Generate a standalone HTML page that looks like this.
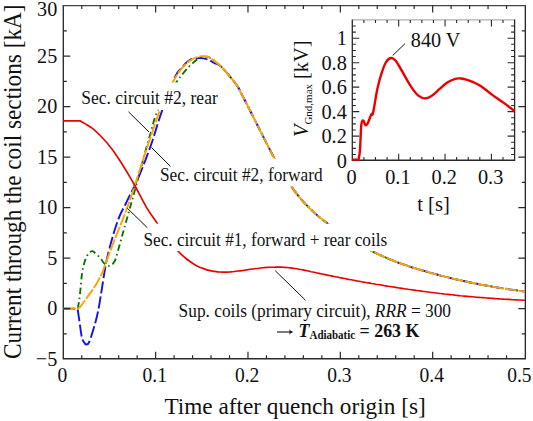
<!DOCTYPE html>
<html><head><meta charset="utf-8"><style>
html,body{margin:0;padding:0;background:#fff;}
svg{display:block;font-family:"Liberation Serif", serif;}
</style></head><body>
<svg width="533" height="421" viewBox="0 0 533 421" fill="#111">
<path d="M63.3,358.8 V5.6 M525.35,5.6 V358.8 M62.6,358.75 H526" stroke="#2a2a2a" stroke-width="1.35" fill="none"/>
<path d="M62.6,5.6 H526" stroke="#444" stroke-width="1.1" fill="none"/>
<path d="M63.3,308.6 L77.8,308.6 C78.2,306.3 79.2,301.0 79.9,295.0 C80.6,289.0 81.3,278.2 82.1,272.8 C82.9,267.4 83.6,265.3 84.5,262.3 C85.4,259.3 86.4,256.8 87.5,255.0 C88.6,253.2 90.1,252.2 91.0,251.6 C91.9,251.0 92.2,250.9 93.1,251.4 C94.0,251.9 95.1,253.1 96.4,254.3 C97.7,255.5 99.5,257.1 100.7,258.5 C101.9,259.9 102.4,261.4 103.5,262.6 C104.6,263.8 106.3,265.0 107.5,265.5 C108.7,266.0 109.5,266.0 110.5,265.6 C111.5,265.2 112.6,264.2 113.5,263.0 C114.4,261.8 114.7,261.9 115.8,258.5 C116.9,255.1 118.8,247.6 120.2,242.8 C121.6,238.0 122.7,233.9 123.9,229.5 C125.1,225.1 126.4,220.6 127.6,216.2 C128.8,211.8 130.2,207.1 131.3,203.0 C132.5,198.9 133.3,195.8 134.5,191.5 C135.7,187.2 136.9,182.8 138.5,177.0 C140.1,171.2 141.8,164.2 143.8,157.0 C145.8,149.8 148.1,141.4 150.5,133.5 C152.9,125.6 153.8,118.2 158.1,109.6 C162.4,101.0 172.3,88.0 176.5,82.0 C180.7,76.0 181.0,76.0 183.0,73.5 C185.0,71.0 186.7,68.9 188.5,67.1 C190.3,65.2 192.0,63.8 193.6,62.4 C195.2,61.0 196.2,59.9 197.9,59.0 C199.6,58.1 201.9,57.0 203.9,56.8 C205.9,56.6 207.0,56.0 210.0,57.8 C213.0,59.6 217.5,62.9 222.0,67.5 C226.5,72.1 233.7,81.0 236.8,85.2 C239.9,89.4 239.5,90.1 240.8,92.6 C242.1,95.1 243.5,97.7 244.8,100.2 C246.1,102.8 247.5,105.4 248.8,108.0 C250.1,110.7 251.5,113.3 252.8,116.0 C254.1,118.6 255.5,121.3 256.8,123.9 C258.1,126.6 259.5,129.3 260.8,131.9 C262.2,134.6 263.5,137.2 264.8,139.9 C266.2,142.5 267.5,145.1 268.8,147.7 C270.2,150.2 271.5,152.8 272.8,155.3 C274.2,157.8 275.5,160.3 276.8,162.7 C278.2,165.1 279.5,167.4 280.8,169.7 C282.2,172.0 283.5,174.3 284.8,176.5 C286.2,178.6 287.5,180.7 288.8,182.8 C290.2,184.8 291.5,186.7 292.8,188.6 C294.2,190.4 295.5,192.2 296.8,193.9 C298.2,195.6 299.5,197.2 300.8,198.8 C302.2,200.3 303.5,201.8 304.8,203.3 C306.2,204.7 307.5,206.1 308.9,207.5 C310.2,208.8 311.5,210.1 312.9,211.3 C314.2,212.6 315.5,213.8 316.9,214.9 C318.2,216.1 319.5,217.2 320.9,218.3 C322.2,219.4 323.5,220.4 324.9,221.5 C326.2,222.5 327.5,223.5 328.9,224.5 C330.2,225.4 331.5,226.4 332.9,227.3 C334.2,228.3 335.5,229.2 336.9,230.1 C338.2,231.0 339.5,231.9 340.9,232.7 C342.2,233.6 343.5,234.5 344.9,235.3 C346.2,236.2 347.5,237.0 348.9,237.8 C350.2,238.6 351.5,239.5 352.9,240.3 C354.2,241.1 355.5,241.9 356.9,242.7 C358.2,243.5 359.6,244.3 360.9,245.0 C362.2,245.8 363.6,246.6 364.9,247.3 C366.2,248.1 367.6,248.8 368.9,249.5 C370.2,250.2 371.6,250.9 372.9,251.6 C374.2,252.3 375.6,252.9 376.9,253.6 C378.2,254.2 379.6,254.8 380.9,255.4 C382.2,256.1 383.6,256.6 384.9,257.2 C386.2,257.8 387.6,258.4 388.9,258.9 C390.2,259.5 391.6,260.0 392.9,260.5 C394.2,261.1 395.6,261.6 396.9,262.1 C398.2,262.6 399.6,263.1 400.9,263.5 C402.2,264.0 403.6,264.5 404.9,264.9 C406.3,265.4 407.6,265.8 408.9,266.3 C410.3,266.7 411.6,267.1 412.9,267.6 C414.3,268.0 415.6,268.4 416.9,268.8 C418.3,269.2 419.6,269.6 420.9,270.0 C422.3,270.4 423.6,270.8 424.9,271.2 C426.3,271.6 427.6,271.9 428.9,272.3 C430.3,272.7 431.6,273.1 432.9,273.4 C434.3,273.8 435.6,274.1 436.9,274.5 C438.3,274.9 439.6,275.2 440.9,275.6 C442.3,275.9 443.6,276.2 444.9,276.6 C446.3,276.9 447.6,277.3 448.9,277.6 C450.3,277.9 451.6,278.2 452.9,278.6 C454.3,278.9 455.6,279.2 457.0,279.5 C458.3,279.8 459.6,280.1 461.0,280.4 C462.3,280.7 463.6,281.0 465.0,281.3 C466.3,281.6 467.6,281.9 469.0,282.2 C470.3,282.4 471.6,282.7 473.0,283.0 C474.3,283.3 475.6,283.5 477.0,283.8 C478.3,284.1 479.6,284.3 481.0,284.6 C482.3,284.8 483.6,285.1 485.0,285.3 C486.3,285.6 487.6,285.8 489.0,286.1 C490.3,286.3 491.6,286.5 493.0,286.8 C494.3,287.0 495.6,287.2 497.0,287.5 C498.3,287.7 499.6,287.9 501.0,288.1 C502.3,288.3 503.7,288.5 505.0,288.7 C506.3,288.9 507.7,289.1 509.0,289.3 C510.3,289.5 511.7,289.7 513.0,289.9 C514.3,290.1 515.7,290.3 517.0,290.4 C518.3,290.6 519.7,290.8 521.0,291.0 C522.3,291.1 524.3,291.4 525.0,291.5" stroke="#057205" stroke-width="1.85" fill="none" stroke-dasharray="6.5 3.3 1.5 3.3"/>
<path d="M63.3,308.6 L77.6,308.6 C77.9,310.4 78.5,315.1 79.2,319.6 C79.9,324.1 80.8,331.9 81.5,335.5 C82.2,339.1 82.7,340.0 83.5,341.5 C84.3,343.0 85.3,344.4 86.3,344.5 C87.2,344.6 87.9,344.9 89.2,342.0 C90.5,339.1 92.5,332.4 94.0,327.3 C95.5,322.2 96.8,317.4 98.1,311.3 C99.3,305.2 100.4,297.6 101.5,291.0 C102.6,284.4 103.6,277.3 104.5,272.0 C105.4,266.7 105.8,264.1 106.9,259.0 C108.1,253.9 109.9,246.7 111.4,241.3 C112.9,235.9 114.3,230.9 115.8,226.5 C117.3,222.1 118.5,218.6 120.2,214.7 C121.9,210.8 124.3,206.7 126.1,203.0 C127.9,199.3 129.7,195.5 131.2,192.5 C132.7,189.5 133.2,189.0 134.9,185.2 C136.7,181.4 139.6,174.7 141.7,169.6 C143.8,164.5 145.7,159.5 147.5,154.6 C149.3,149.7 150.2,147.5 152.7,140.0 C155.2,132.5 158.6,120.2 162.4,109.6 C166.2,99.0 172.2,83.3 175.3,76.5 C178.4,69.7 178.5,71.5 180.8,68.8 C183.2,66.1 186.3,62.1 189.4,60.3 C192.5,58.5 196.6,58.2 199.6,58.1 C202.6,58.0 204.9,58.6 207.3,59.4 C209.7,60.2 211.6,61.4 214.0,62.8 C216.4,64.1 218.2,63.8 222.0,67.5 C225.8,71.2 233.7,81.0 236.8,85.2 C239.9,89.4 239.5,90.1 240.8,92.6 C242.1,95.1 243.5,97.7 244.8,100.2 C246.1,102.8 247.5,105.4 248.8,108.0 C250.1,110.7 251.5,113.3 252.8,116.0 C254.1,118.6 255.5,121.3 256.8,123.9 C258.1,126.6 259.5,129.3 260.8,131.9 C262.2,134.6 263.5,137.2 264.8,139.9 C266.2,142.5 267.5,145.1 268.8,147.7 C270.2,150.2 271.5,152.8 272.8,155.3 C274.2,157.8 275.5,160.3 276.8,162.7 C278.2,165.1 279.5,167.4 280.8,169.7 C282.2,172.0 283.5,174.3 284.8,176.5 C286.2,178.6 287.5,180.7 288.8,182.8 C290.2,184.8 291.5,186.7 292.8,188.6 C294.2,190.4 295.5,192.2 296.8,193.9 C298.2,195.6 299.5,197.2 300.8,198.8 C302.2,200.3 303.5,201.8 304.8,203.3 C306.2,204.7 307.5,206.1 308.9,207.5 C310.2,208.8 311.5,210.1 312.9,211.3 C314.2,212.6 315.5,213.8 316.9,214.9 C318.2,216.1 319.5,217.2 320.9,218.3 C322.2,219.4 323.5,220.4 324.9,221.5 C326.2,222.5 327.5,223.5 328.9,224.5 C330.2,225.4 331.5,226.4 332.9,227.3 C334.2,228.3 335.5,229.2 336.9,230.1 C338.2,231.0 339.5,231.9 340.9,232.7 C342.2,233.6 343.5,234.5 344.9,235.3 C346.2,236.2 347.5,237.0 348.9,237.8 C350.2,238.6 351.5,239.5 352.9,240.3 C354.2,241.1 355.5,241.9 356.9,242.7 C358.2,243.5 359.6,244.3 360.9,245.0 C362.2,245.8 363.6,246.6 364.9,247.3 C366.2,248.1 367.6,248.8 368.9,249.5 C370.2,250.2 371.6,250.9 372.9,251.6 C374.2,252.3 375.6,252.9 376.9,253.6 C378.2,254.2 379.6,254.8 380.9,255.4 C382.2,256.1 383.6,256.6 384.9,257.2 C386.2,257.8 387.6,258.4 388.9,258.9 C390.2,259.5 391.6,260.0 392.9,260.5 C394.2,261.1 395.6,261.6 396.9,262.1 C398.2,262.6 399.6,263.1 400.9,263.5 C402.2,264.0 403.6,264.5 404.9,264.9 C406.3,265.4 407.6,265.8 408.9,266.3 C410.3,266.7 411.6,267.1 412.9,267.6 C414.3,268.0 415.6,268.4 416.9,268.8 C418.3,269.2 419.6,269.6 420.9,270.0 C422.3,270.4 423.6,270.8 424.9,271.2 C426.3,271.6 427.6,271.9 428.9,272.3 C430.3,272.7 431.6,273.1 432.9,273.4 C434.3,273.8 435.6,274.1 436.9,274.5 C438.3,274.9 439.6,275.2 440.9,275.6 C442.3,275.9 443.6,276.2 444.9,276.6 C446.3,276.9 447.6,277.3 448.9,277.6 C450.3,277.9 451.6,278.2 452.9,278.6 C454.3,278.9 455.6,279.2 457.0,279.5 C458.3,279.8 459.6,280.1 461.0,280.4 C462.3,280.7 463.6,281.0 465.0,281.3 C466.3,281.6 467.6,281.9 469.0,282.2 C470.3,282.4 471.6,282.7 473.0,283.0 C474.3,283.3 475.6,283.5 477.0,283.8 C478.3,284.1 479.6,284.3 481.0,284.6 C482.3,284.8 483.6,285.1 485.0,285.3 C486.3,285.6 487.6,285.8 489.0,286.1 C490.3,286.3 491.6,286.5 493.0,286.8 C494.3,287.0 495.6,287.2 497.0,287.5 C498.3,287.7 499.6,287.9 501.0,288.1 C502.3,288.3 503.7,288.5 505.0,288.7 C506.3,288.9 507.7,289.1 509.0,289.3 C510.3,289.5 511.7,289.7 513.0,289.9 C514.3,290.1 515.7,290.3 517.0,290.4 C518.3,290.6 519.7,290.8 521.0,291.0 C522.3,291.1 524.3,291.4 525.0,291.5" stroke="#1212f2" stroke-width="1.9" fill="none" stroke-dasharray="12 3.2"/>
<path d="M63.3,308.6 L77.5,308.6 C78.0,308.3 78.9,308.3 80.4,306.6 C81.9,304.9 84.3,301.2 86.3,298.5 C88.3,295.8 90.2,293.3 92.2,290.4 C94.2,287.5 96.4,283.9 98.1,280.9 C99.8,277.8 101.1,275.5 102.5,272.1 C103.9,268.7 105.0,265.1 106.7,260.5 C108.4,255.8 110.8,249.4 112.8,244.2 C114.8,239.0 116.7,234.4 118.7,229.5 C120.7,224.6 122.9,219.0 124.6,214.7 C126.2,210.4 126.9,208.4 128.6,203.5 C130.3,198.6 132.9,191.1 134.9,185.2 C136.9,179.3 138.5,173.8 140.3,168.3 C142.1,162.8 143.5,158.4 145.6,152.0 C147.7,145.6 150.6,137.1 153.0,130.0 C155.4,122.9 157.0,117.5 160.3,109.6 C163.6,101.7 169.3,89.2 172.7,82.5 C176.1,75.8 178.0,73.3 180.8,69.7 C183.6,66.1 186.6,63.2 189.4,61.1 C192.2,59.0 195.6,57.6 197.9,56.8 C200.2,56.0 201.5,56.0 203.5,56.2 C205.5,56.4 206.9,55.9 210.0,57.8 C213.1,59.7 217.5,62.9 222.0,67.5 C226.5,72.1 233.7,81.0 236.8,85.2 C239.9,89.4 239.5,90.1 240.8,92.6 C242.1,95.1 243.5,97.7 244.8,100.2 C246.1,102.8 247.5,105.4 248.8,108.0 C250.1,110.7 251.5,113.3 252.8,116.0 C254.1,118.6 255.5,121.3 256.8,123.9 C258.1,126.6 259.5,129.3 260.8,131.9 C262.2,134.6 263.5,137.2 264.8,139.9 C266.2,142.5 267.5,145.1 268.8,147.7 C270.2,150.2 271.5,152.8 272.8,155.3 C274.2,157.8 275.5,160.3 276.8,162.7 C278.2,165.1 279.5,167.4 280.8,169.7 C282.2,172.0 283.5,174.3 284.8,176.5 C286.2,178.6 287.5,180.7 288.8,182.8 C290.2,184.8 291.5,186.7 292.8,188.6 C294.2,190.4 295.5,192.2 296.8,193.9 C298.2,195.6 299.5,197.2 300.8,198.8 C302.2,200.3 303.5,201.8 304.8,203.3 C306.2,204.7 307.5,206.1 308.9,207.5 C310.2,208.8 311.5,210.1 312.9,211.3 C314.2,212.6 315.5,213.8 316.9,214.9 C318.2,216.1 319.5,217.2 320.9,218.3 C322.2,219.4 323.5,220.4 324.9,221.5 C326.2,222.5 327.5,223.5 328.9,224.5 C330.2,225.4 331.5,226.4 332.9,227.3 C334.2,228.3 335.5,229.2 336.9,230.1 C338.2,231.0 339.5,231.9 340.9,232.7 C342.2,233.6 343.5,234.5 344.9,235.3 C346.2,236.2 347.5,237.0 348.9,237.8 C350.2,238.6 351.5,239.5 352.9,240.3 C354.2,241.1 355.5,241.9 356.9,242.7 C358.2,243.5 359.6,244.3 360.9,245.0 C362.2,245.8 363.6,246.6 364.9,247.3 C366.2,248.1 367.6,248.8 368.9,249.5 C370.2,250.2 371.6,250.9 372.9,251.6 C374.2,252.3 375.6,252.9 376.9,253.6 C378.2,254.2 379.6,254.8 380.9,255.4 C382.2,256.1 383.6,256.6 384.9,257.2 C386.2,257.8 387.6,258.4 388.9,258.9 C390.2,259.5 391.6,260.0 392.9,260.5 C394.2,261.1 395.6,261.6 396.9,262.1 C398.2,262.6 399.6,263.1 400.9,263.5 C402.2,264.0 403.6,264.5 404.9,264.9 C406.3,265.4 407.6,265.8 408.9,266.3 C410.3,266.7 411.6,267.1 412.9,267.6 C414.3,268.0 415.6,268.4 416.9,268.8 C418.3,269.2 419.6,269.6 420.9,270.0 C422.3,270.4 423.6,270.8 424.9,271.2 C426.3,271.6 427.6,271.9 428.9,272.3 C430.3,272.7 431.6,273.1 432.9,273.4 C434.3,273.8 435.6,274.1 436.9,274.5 C438.3,274.9 439.6,275.2 440.9,275.6 C442.3,275.9 443.6,276.2 444.9,276.6 C446.3,276.9 447.6,277.3 448.9,277.6 C450.3,277.9 451.6,278.2 452.9,278.6 C454.3,278.9 455.6,279.2 457.0,279.5 C458.3,279.8 459.6,280.1 461.0,280.4 C462.3,280.7 463.6,281.0 465.0,281.3 C466.3,281.6 467.6,281.9 469.0,282.2 C470.3,282.4 471.6,282.7 473.0,283.0 C474.3,283.3 475.6,283.5 477.0,283.8 C478.3,284.1 479.6,284.3 481.0,284.6 C482.3,284.8 483.6,285.1 485.0,285.3 C486.3,285.6 487.6,285.8 489.0,286.1 C490.3,286.3 491.6,286.5 493.0,286.8 C494.3,287.0 495.6,287.2 497.0,287.5 C498.3,287.7 499.6,287.9 501.0,288.1 C502.3,288.3 503.7,288.5 505.0,288.7 C506.3,288.9 507.7,289.1 509.0,289.3 C510.3,289.5 511.7,289.7 513.0,289.9 C514.3,290.1 515.7,290.3 517.0,290.4 C518.3,290.6 519.7,290.8 521.0,291.0 C522.3,291.1 524.3,291.4 525.0,291.5" stroke="#fba500" stroke-width="1.95" fill="none" stroke-dasharray="12 1.6"/>
<path d="M63.3,120.8 L80.1,120.8 C82.1,122.0 88.2,125.2 92.1,128.2 C96.0,131.2 100.2,135.5 103.5,139.0 C106.8,142.5 109.6,145.9 112.1,149.2 C114.6,152.4 116.1,154.9 118.5,158.5 C120.9,162.1 123.6,166.5 126.3,171.0 C129.0,175.5 131.5,179.5 134.8,185.5 C138.1,191.5 142.4,200.4 146.2,206.8 C150.0,213.2 154.0,218.5 157.6,223.9 C161.2,229.3 164.6,234.5 168.0,239.0 C171.4,243.5 175.6,248.2 177.9,250.9 C180.2,253.6 180.6,253.7 181.9,254.9 C183.3,256.2 184.6,257.4 186.0,258.5 C187.3,259.6 188.7,260.6 190.0,261.5 C191.4,262.5 192.7,263.4 194.0,264.2 C195.4,265.0 196.7,265.7 198.1,266.4 C199.4,267.0 200.8,267.6 202.1,268.1 C203.5,268.7 204.8,269.2 206.2,269.6 C207.5,270.0 208.8,270.3 210.2,270.6 C211.5,270.9 212.9,271.2 214.2,271.4 C215.6,271.6 216.9,271.7 218.3,271.9 C219.6,272.0 221.0,272.0 222.3,272.1 C223.6,272.1 225.0,272.1 226.3,272.1 C227.7,272.0 229.0,271.9 230.4,271.9 C231.7,271.8 233.1,271.6 234.4,271.5 C235.8,271.4 237.1,271.2 238.4,271.0 C239.8,270.9 241.1,270.7 242.5,270.5 C243.8,270.3 245.2,270.1 246.5,269.9 C247.9,269.7 249.2,269.5 250.5,269.3 C251.9,269.1 253.2,268.9 254.6,268.7 C255.9,268.5 257.3,268.3 258.6,268.2 C260.0,268.0 261.3,267.9 262.7,267.7 C264.0,267.6 265.3,267.5 266.7,267.4 C268.0,267.3 269.4,267.2 270.7,267.2 C272.1,267.1 273.4,267.1 274.8,267.1 C276.1,267.0 277.5,267.1 278.8,267.1 C280.1,267.1 281.5,267.2 282.8,267.2 C284.2,267.3 285.5,267.4 286.9,267.5 C288.2,267.6 289.6,267.8 290.9,267.9 C292.3,268.1 293.6,268.3 294.9,268.5 C296.3,268.7 297.6,268.9 299.0,269.2 C300.3,269.4 301.7,269.7 303.0,269.9 C304.4,270.2 305.7,270.5 307.1,270.8 C308.4,271.1 309.7,271.4 311.1,271.7 C312.4,271.9 313.8,272.2 315.1,272.5 C316.5,272.8 317.8,273.1 319.2,273.4 C320.5,273.7 321.9,273.9 323.2,274.2 C324.5,274.5 325.9,274.8 327.2,275.1 C328.6,275.3 329.9,275.6 331.3,275.9 C332.6,276.2 334.0,276.4 335.3,276.7 C336.7,277.0 338.0,277.2 339.3,277.5 C340.7,277.8 342.0,278.0 343.4,278.3 C344.7,278.5 346.1,278.8 347.4,279.1 C348.8,279.3 350.1,279.6 351.5,279.8 C352.8,280.1 354.1,280.3 355.5,280.6 C356.8,280.8 358.2,281.1 359.5,281.3 C360.9,281.6 362.2,281.8 363.6,282.1 C364.9,282.3 366.2,282.5 367.6,282.8 C368.9,283.0 370.3,283.2 371.6,283.5 C373.0,283.7 374.3,283.9 375.7,284.2 C377.0,284.4 378.4,284.6 379.7,284.8 C381.0,285.1 382.4,285.3 383.7,285.5 C385.1,285.7 386.4,286.0 387.8,286.2 C389.1,286.4 390.5,286.6 391.8,286.8 C393.2,287.0 394.5,287.2 395.8,287.4 C397.2,287.6 398.5,287.9 399.9,288.1 C401.2,288.3 402.6,288.5 403.9,288.7 C405.3,288.9 406.6,289.1 408.0,289.3 C409.3,289.4 410.6,289.6 412.0,289.8 C413.3,290.0 414.7,290.2 416.0,290.4 C417.4,290.6 418.7,290.8 420.1,290.9 C421.4,291.1 422.8,291.3 424.1,291.5 C425.4,291.7 426.8,291.8 428.1,292.0 C429.5,292.2 430.8,292.3 432.2,292.5 C433.5,292.7 434.9,292.8 436.2,293.0 C437.6,293.2 438.9,293.3 440.2,293.5 C441.6,293.6 442.9,293.8 444.3,294.0 C445.6,294.1 447.0,294.3 448.3,294.4 C449.7,294.6 451.0,294.7 452.4,294.8 C453.7,295.0 455.0,295.1 456.4,295.3 C457.7,295.4 459.1,295.5 460.4,295.7 C461.8,295.8 463.1,295.9 464.5,296.1 C465.8,296.2 467.2,296.3 468.5,296.5 C469.8,296.6 471.2,296.7 472.5,296.8 C473.9,296.9 475.2,297.1 476.6,297.2 C477.9,297.3 479.3,297.4 480.6,297.5 C481.9,297.6 483.3,297.7 484.6,297.8 C486.0,297.9 487.3,298.0 488.7,298.1 C490.0,298.2 491.4,298.3 492.7,298.4 C494.1,298.5 495.4,298.6 496.7,298.7 C498.1,298.8 499.4,298.9 500.8,299.0 C502.1,299.1 503.5,299.1 504.8,299.2 C506.2,299.3 507.5,299.4 508.9,299.4 C510.2,299.5 511.5,299.6 512.9,299.7 C514.2,299.7 515.6,299.8 516.9,299.9 C518.3,299.9 519.6,300.0 521.0,300.0 C522.3,300.1 524.3,300.2 525.0,300.2" stroke="#ec0000" stroke-width="1.65" fill="none"/>
<path d="M81.77,358.8 v-3.5 M81.77,5.6 v3.5 M100.24,358.8 v-3.5 M100.24,5.6 v3.5 M118.70,358.8 v-3.5 M118.70,5.6 v3.5 M137.17,358.8 v-3.5 M137.17,5.6 v3.5 M155.64,358.8 v-7 M155.64,5.6 v7 M174.11,358.8 v-3.5 M174.11,5.6 v3.5 M192.58,358.8 v-3.5 M192.58,5.6 v3.5 M211.04,358.8 v-3.5 M211.04,5.6 v3.5 M229.51,358.8 v-3.5 M229.51,5.6 v3.5 M247.98,358.8 v-7 M247.98,5.6 v7 M266.45,358.8 v-3.5 M266.45,5.6 v3.5 M284.92,358.8 v-3.5 M284.92,5.6 v3.5 M303.38,358.8 v-3.5 M303.38,5.6 v3.5 M321.85,358.8 v-3.5 M321.85,5.6 v3.5 M340.32,358.8 v-7 M340.32,5.6 v7 M358.79,358.8 v-3.5 M358.79,5.6 v3.5 M377.26,358.8 v-3.5 M377.26,5.6 v3.5 M395.72,358.8 v-3.5 M395.72,5.6 v3.5 M414.19,358.8 v-3.5 M414.19,5.6 v3.5 M432.66,358.8 v-7 M432.66,5.6 v7 M451.13,358.8 v-3.5 M451.13,5.6 v3.5 M469.60,358.8 v-3.5 M469.60,5.6 v3.5 M488.06,358.8 v-3.5 M488.06,5.6 v3.5 M506.53,358.8 v-3.5 M506.53,5.6 v3.5 M63.3,333.85 h3.5 M525.35,333.85 h-3.5 M63.3,308.60 h7 M525.35,308.60 h-7 M63.3,283.35 h3.5 M525.35,283.35 h-3.5 M63.3,258.10 h7 M525.35,258.10 h-7 M63.3,232.85 h3.5 M525.35,232.85 h-3.5 M63.3,207.60 h7 M525.35,207.60 h-7 M63.3,182.35 h3.5 M525.35,182.35 h-3.5 M63.3,157.10 h7 M525.35,157.10 h-7 M63.3,131.85 h3.5 M525.35,131.85 h-3.5 M63.3,106.60 h7 M525.35,106.60 h-7 M63.3,81.35 h3.5 M525.35,81.35 h-3.5 M63.3,56.10 h7 M525.35,56.10 h-7 M63.3,30.85 h3.5 M525.35,30.85 h-3.5" stroke="#2a2a2a" stroke-width="1.2" fill="none"/>
<rect x="81" y="82.4" width="138" height="27.4" fill="#fff"/>
<rect x="159.5" y="158.7" width="164.5" height="27.4" fill="#fff"/>
<rect x="143" y="223.7" width="246" height="27.4" fill="#fff"/>
<path d="M128.5,111.8 L149,132 M151.5,147.5 L170.5,166.4 M127.3,208.2 L147.3,227.7 M275.2,270.7 L305.6,300.3" stroke="#111" stroke-width="1" fill="none"/>
<text x="0" y="0" font-size="19.5"  transform="translate(81.27,104.2) scale(0.8974,1)">Sec. circuit #2, rear</text>
<text x="0" y="0" font-size="19.5"  transform="translate(159.99,180.5) scale(0.8867,1)">Sec. circuit #2, forward</text>
<text x="0" y="0" font-size="19.5"  transform="translate(143.50,245.5) scale(0.8829,1)">Sec. circuit #1, forward + rear coils</text>
<text x="0" y="0" font-size="19.5"  transform="translate(178.60,317) scale(0.8887,1)">Sup. coils (primary circuit), <tspan font-style="italic">RRR</tspan> = 300</text>
<path d="M277,332 H292" stroke="#111" stroke-width="1.1" fill="none"/><path d="M289.4,329.2 Q290.4,331.3 293.4,332 Q290.4,332.7 289.4,334.8 Q289.9,332 289.4,329.2 Z" fill="#111"/>
<text x="0" y="0" font-size="17.6" font-weight="bold" transform="translate(298.58,337) scale(1.0153,1.1)"><tspan font-style="italic">T</tspan><tspan font-size="10.8" dy="1.8">Adiabatic</tspan><tspan dy="-1.8"> = 263 K</tspan></text>
<rect x="352.3" y="20" width="162.3" height="140.2" fill="#fff"/>
<path d="M352.3,19.9 H514.6" stroke="#999" stroke-width="1" fill="none"/>
<path d="M352.3,19.6 V160.25 H514.6 V19.6" stroke="#2a2a2a" stroke-width="1.3" fill="none"/>
<path d="M363.89,160.25 v-3.2 M363.89,19.9 v3.2 M375.49,160.25 v-3.2 M375.49,19.9 v3.2 M387.08,160.25 v-3.2 M387.08,19.9 v3.2 M398.67,160.25 v-6.5 M398.67,19.9 v6.5 M410.26,160.25 v-3.2 M410.26,19.9 v3.2 M421.86,160.25 v-3.2 M421.86,19.9 v3.2 M433.45,160.25 v-3.2 M433.45,19.9 v3.2 M445.04,160.25 v-6.5 M445.04,19.9 v6.5 M456.63,160.25 v-3.2 M456.63,19.9 v3.2 M468.23,160.25 v-3.2 M468.23,19.9 v3.2 M479.82,160.25 v-3.2 M479.82,19.9 v3.2 M491.41,160.25 v-6.5 M491.41,19.9 v6.5 M503.00,160.25 v-3.2 M503.00,19.9 v3.2 M352.3,154.48 h3.5 M514.6,154.48 h-3.5 M352.3,148.36 h3.5 M514.6,148.36 h-3.5 M352.3,142.24 h3.5 M514.6,142.24 h-3.5 M352.3,136.12 h7 M514.6,136.12 h-7 M352.3,130.00 h3.5 M514.6,130.00 h-3.5 M352.3,123.88 h3.5 M514.6,123.88 h-3.5 M352.3,117.76 h3.5 M514.6,117.76 h-3.5 M352.3,111.64 h7 M514.6,111.64 h-7 M352.3,105.52 h3.5 M514.6,105.52 h-3.5 M352.3,99.40 h3.5 M514.6,99.40 h-3.5 M352.3,93.28 h3.5 M514.6,93.28 h-3.5 M352.3,87.16 h7 M514.6,87.16 h-7 M352.3,81.04 h3.5 M514.6,81.04 h-3.5 M352.3,74.92 h3.5 M514.6,74.92 h-3.5 M352.3,68.80 h3.5 M514.6,68.80 h-3.5 M352.3,62.68 h7 M514.6,62.68 h-7 M352.3,56.56 h3.5 M514.6,56.56 h-3.5 M352.3,50.44 h3.5 M514.6,50.44 h-3.5 M352.3,44.32 h3.5 M514.6,44.32 h-3.5 M352.3,38.20 h7 M514.6,38.20 h-7 M352.3,32.08 h3.5 M514.6,32.08 h-3.5 M352.3,25.96 h3.5 M514.6,25.96 h-3.5" stroke="#2a2a2a" stroke-width="1.1" fill="none"/>
<path d="M352.3,159.6 L358.5,159.6 C358.8,158.0 359.6,155.6 360.0,150.0 C360.4,144.4 360.8,130.8 361.2,126.0 C361.6,121.2 361.9,121.8 362.3,121.0 C362.7,120.2 363.3,120.5 363.8,121.2 C364.3,121.9 364.8,125.0 365.4,125.3 C366.0,125.6 366.9,124.6 367.7,123.3 C368.5,122.0 369.4,119.0 370.0,117.5 C370.6,116.0 371.1,114.5 371.5,114.0 C371.9,113.5 372.1,115.5 372.5,114.5 C372.9,113.5 373.2,112.4 374.0,108.0 C374.8,103.6 376.2,94.0 377.5,88.2 C378.8,82.4 380.2,77.5 381.6,73.2 C383.0,68.9 384.3,65.0 385.8,62.5 C387.3,60.0 389.1,58.3 390.7,58.0 C392.3,57.7 394.0,58.9 395.7,60.8 C397.4,62.7 399.2,66.4 401.1,69.5 C403.0,72.6 404.9,76.4 406.8,79.6 C408.7,82.8 410.5,86.0 412.4,88.6 C414.3,91.2 415.9,93.8 418.0,95.4 C420.1,97.0 422.6,98.3 424.8,98.4 C427.1,98.5 429.1,97.5 431.5,96.0 C433.9,94.5 436.8,91.5 439.4,89.2 C442.0,86.9 444.7,84.1 447.3,82.4 C449.9,80.7 452.9,79.5 455.2,78.8 C457.5,78.1 459.1,78.3 461.1,78.5 C463.1,78.7 465.2,79.2 467.2,79.8 C469.2,80.4 471.3,81.3 473.3,82.2 C475.3,83.1 477.4,84.0 479.4,85.2 C481.4,86.4 483.5,88.0 485.5,89.5 C487.5,91.0 488.6,92.2 491.6,94.4 C494.7,96.6 500.0,100.1 503.8,102.9 C507.6,105.7 512.8,109.8 514.6,111.2" stroke="#ec0000" stroke-width="2.4" fill="none" stroke-linejoin="round"/>
<path d="M392.7,55.5 L405,43.6" stroke="#111" stroke-width="1" fill="none"/>
<text x="0" y="0" font-size="20.3"  transform="translate(410.80,46.7) scale(0.9960,1)">840 V</text>
<text x="0" y="0" font-size="20.2" text-anchor="end" transform="translate(57.3,365.9) scale(1,1.06)">−5</text>
<text x="0" y="0" font-size="20.2" text-anchor="end" transform="translate(57.3,315.4) scale(1,1.06)">0</text>
<text x="0" y="0" font-size="20.2" text-anchor="end" transform="translate(57.3,264.9) scale(1,1.06)">5</text>
<text x="0" y="0" font-size="20.2" text-anchor="end" transform="translate(57.3,214.4) scale(1,1.06)">10</text>
<text x="0" y="0" font-size="20.2" text-anchor="end" transform="translate(57.3,163.9) scale(1,1.06)">15</text>
<text x="0" y="0" font-size="20.2" text-anchor="end" transform="translate(57.3,113.4) scale(1,1.06)">20</text>
<text x="0" y="0" font-size="20.2" text-anchor="end" transform="translate(57.3,62.9) scale(1,1.06)">25</text>
<text x="0" y="0" font-size="20.2" text-anchor="end" transform="translate(57.3,16.2) scale(1,1.06)">30</text>
<text x="0" y="0" font-size="19.5" text-anchor="middle" transform="translate(62.4,382.3) scale(1,1.08)">0</text>
<text x="0" y="0" font-size="19.5" text-anchor="middle" transform="translate(154.7,382.3) scale(1,1.08)">0.1</text>
<text x="0" y="0" font-size="19.5" text-anchor="middle" transform="translate(247.1,382.3) scale(1,1.08)">0.2</text>
<text x="0" y="0" font-size="19.5" text-anchor="middle" transform="translate(339.4,382.3) scale(1,1.08)">0.3</text>
<text x="0" y="0" font-size="19.5" text-anchor="middle" transform="translate(431.8,382.3) scale(1,1.08)">0.4</text>
<text x="0" y="0" font-size="19.5" text-anchor="end" transform="translate(531.6,382.3) scale(1,1.08)">0.5</text>
<text x="0" y="0" font-size="20.3" text-anchor="end" transform="translate(346.8,167.8) scale(1,1.07)">0</text>
<text x="0" y="0" font-size="20.3" text-anchor="end" transform="translate(346.8,143.3) scale(1,1.07)">0.2</text>
<text x="0" y="0" font-size="20.3" text-anchor="end" transform="translate(346.8,118.8) scale(1,1.07)">0.4</text>
<text x="0" y="0" font-size="20.3" text-anchor="end" transform="translate(346.8,94.4) scale(1,1.07)">0.6</text>
<text x="0" y="0" font-size="20.3" text-anchor="end" transform="translate(346.8,69.9) scale(1,1.07)">0.8</text>
<text x="0" y="0" font-size="20.3" text-anchor="end" transform="translate(346.8,45.4) scale(1,1.07)">1</text>
<text x="0" y="0" font-size="20.3" text-anchor="middle" transform="translate(351.5,184.3) scale(1,1.07)">0</text>
<text x="0" y="0" font-size="20.3" text-anchor="middle" transform="translate(397.9,184.3) scale(1,1.07)">0.1</text>
<text x="0" y="0" font-size="20.3" text-anchor="middle" transform="translate(444.2,184.3) scale(1,1.07)">0.2</text>
<text x="0" y="0" font-size="20.3" text-anchor="middle" transform="translate(490.6,184.3) scale(1,1.07)">0.3</text>
<text x="0" y="0" font-size="20.5" text-anchor="middle" transform="translate(433.5,211.3) scale(1,1.06)">t [s]</text>
<text x="0" y="0" font-size="20.3" transform="translate(308,137) rotate(-90)"><tspan font-style="italic">V</tspan><tspan font-size="11" dy="3.5">Gnd,max</tspan><tspan dy="-3.5"> [kV]</tspan></text>
<text x="0" y="0" font-size="23.1"  transform="translate(164.40,414) scale(1.0070,1.03)">Time after quench origin [s]</text>
<text x="0" y="0" font-size="23.26" transform="translate(20.9,358.9) rotate(-90) scale(1,1.04)">Current through the coil sections [kA]</text>
</svg>
</body></html>
